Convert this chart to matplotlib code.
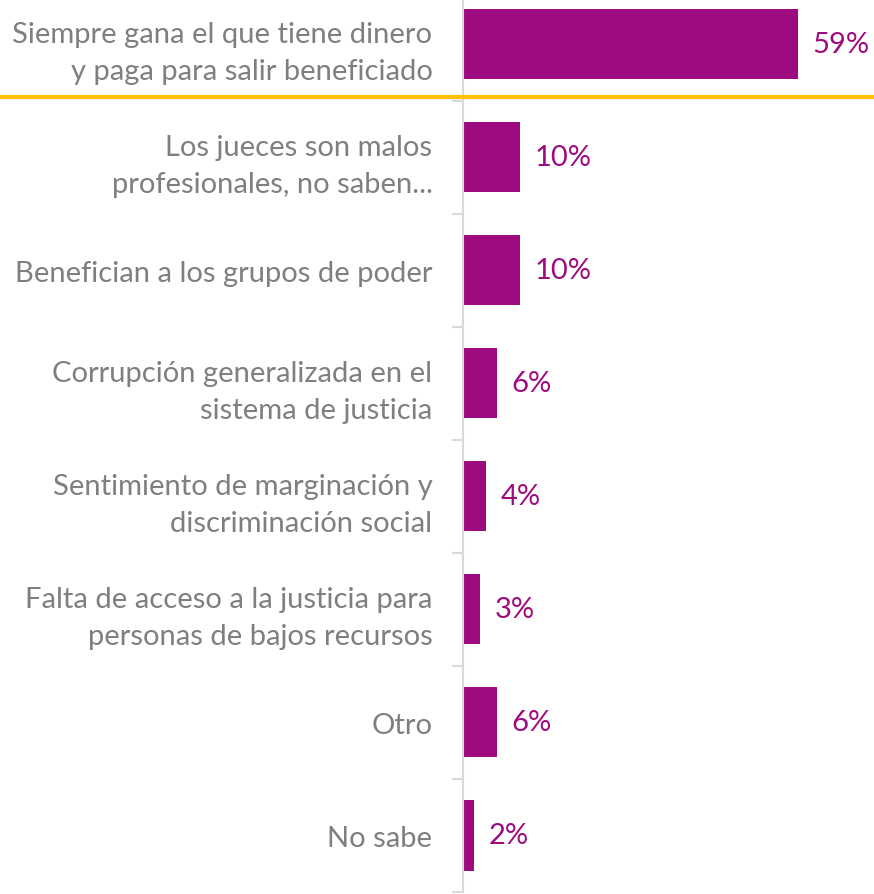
import matplotlib.pyplot as plt

categorias = ['Siempre gana el que tiene dinero\ny paga para salir beneficiado',
              'Los jueces son malos\nprofesionales, no saben...',
              'Benefician a los grupos de poder',
              'Corrupción generalizada en el\nsistema de justicia',
              'Sentimiento de marginación y\ndiscriminación social',
              'Falta de acceso a la justicia para\npersonas de bajos recursos',
              'Otro',
              'No sabe']
valores = [59, 10, 10, 6, 4, 3, 6, 2]

morado = '#9E0B7F'
gris = '#7F7F7F'

plt.rcParams['font.family'] = ['Lato', 'DejaVu Sans']

fig = plt.figure(figsize=(8.74, 8.95), dpi=100)
ax = fig.add_axes([463/874, 2/895, 411/874, 893/895])

y = list(range(len(valores)))
ax.barh(y, valores, height=0.62, color=morado)
for yi, v in zip(y, valores):
    ax.text(v + 2.6, yi, f'{v}%', va='center', ha='left', color=morado, fontsize=21)

ax.set_xlim(0, 72.4)
ax.set_ylim(7.49, -0.40)

ax.set_yticks(y)
ax.set_yticklabels(categorias, fontsize=21, color=gris, linespacing=1.55)
ax.set_yticks([i + 0.5 for i in range(len(valores))], minor=True)
ax.tick_params(axis='y', which='major', length=0, pad=22)
ax.tick_params(axis='y', which='minor', length=8, color='#D9D9D9', width=1.5)
ax.set_xticks([])
for s in ['top', 'right', 'bottom']:
    ax.spines[s].set_visible(False)
ax.spines['left'].set_color('#D9D9D9')
ax.spines['left'].set_linewidth(1.5)

# linea amarilla bajo la primera categoria
fig.add_artist(plt.Line2D([0, 1], [1 - 98/895, 1 - 98/895], color='#FFC000', lw=3))

fig.savefig('out.png', dpi=100)
